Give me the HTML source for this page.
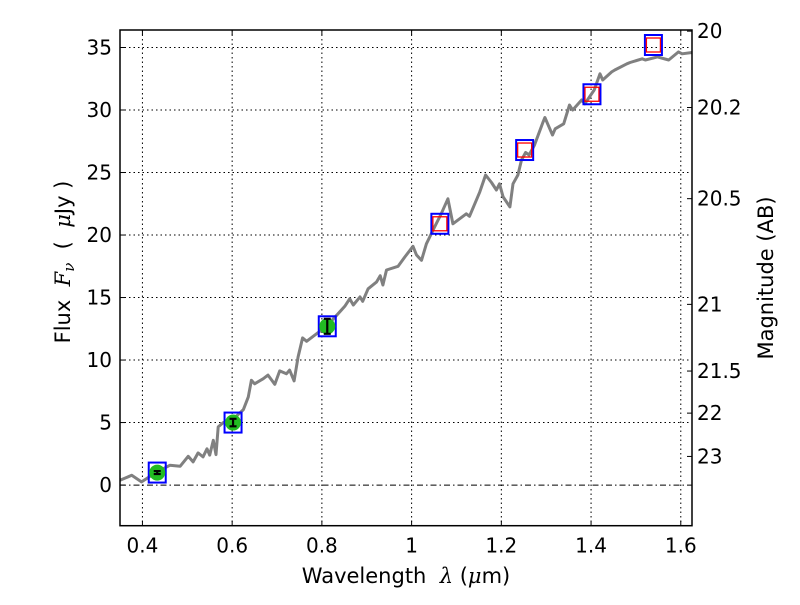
<!DOCTYPE html>
<html><head><meta charset="utf-8"><style>
html,body{margin:0;padding:0;background:#fff}
svg text{font-family:"DejaVu Sans","Liberation Sans",sans-serif;fill:#000}
</style></head><body>
<svg id="chart" width="800" height="600" viewBox="0 0 800 600" xmlns="http://www.w3.org/2000/svg">
<rect width="800" height="600" fill="#fff"/>
<g id="grid"></g>
<g id="spec"></g>
<g id="marks"></g>
<g id="axes"></g>
<text x="406" y="583" text-anchor="middle" font-size="21">Wavelength&#160;&#160;<tspan font-style="italic" font-family="DejaVu Serif,serif">λ</tspan> (<tspan font-style="italic" font-family="DejaVu Serif,serif">μ</tspan>m)</text>
<text transform="translate(70,262) rotate(-90)" text-anchor="middle" font-size="21">Flux&#160;&#160;<tspan font-style="italic" font-family="DejaVu Serif,serif">F<tspan font-size="15" dy="4">ν</tspan></tspan><tspan dy="-4">&#160;&#160;(&#160;&#160;</tspan><tspan font-style="italic" font-family="DejaVu Serif,serif">μ</tspan>Jy )</text>
<text transform="translate(773,278) rotate(-90)" text-anchor="middle" font-size="21">Magnitude (AB)</text>
</svg>
<script>
const xTicks=[0.4,0.6,0.8,1.0,1.2,1.4,1.6];
const xTickLabels=["0.4","0.6","0.8","1","1.2","1.4","1.6"];
const yTicks=[0,5,10,15,20,25,30,35];
const magTicks=[20,20.2,20.5,21,21.5,22,23];
const magTickLabels=["20","20.2","20.5","21","21.5","22","23"];
const specWave=[0.35,0.376,0.398,0.43,0.461,0.484,0.502,0.513,0.524,0.535,0.544,0.55,0.558,0.564,0.569,0.58,0.603,0.625,0.636,0.643,0.65,0.669,0.68,0.695,0.706,0.721,0.728,0.738,0.747,0.757,0.766,0.788,0.81,0.836,0.851,0.862,0.87,0.885,0.891,0.903,0.922,0.93,0.936,0.944,0.97,0.985,1.003,1.011,1.022,1.033,1.048,1.066,1.081,1.092,1.107,1.122,1.129,1.152,1.165,1.178,1.189,1.196,1.204,1.219,1.226,1.237,1.245,1.254,1.262,1.274,1.293,1.297,1.314,1.32,1.339,1.352,1.359,1.379,1.386,1.407,1.42,1.426,1.446,1.453,1.48,1.487,1.514,1.521,1.548,1.573,1.595,1.603,1.625];
const specFlux=[0.38,0.78,0.25,1.0,1.58,1.5,2.3,1.85,2.57,2.25,2.9,2.4,3.58,2.44,4.65,5.0,5.3,6.04,7.05,8.38,8.1,8.5,8.8,8.06,9.13,8.9,9.2,8.33,10.25,11.77,11.5,12.1,12.7,13.7,14.3,14.9,14.4,15.05,14.7,15.7,16.25,16.75,16.0,17.2,17.5,18.25,19.1,18.4,17.98,19.3,20.4,21.7,22.9,20.9,21.3,21.7,21.5,23.45,24.8,24.2,23.6,24.1,23.05,22.25,24.1,24.8,26.0,26.6,26.4,27.2,29.05,29.4,28.0,28.5,28.9,30.4,30.0,30.8,30.5,31.6,32.9,32.4,33.05,33.2,33.7,33.8,34.1,34.0,34.25,34.0,34.65,34.5,34.6];
const optWave=[0.433,0.602,0.812];
const optFlux=[1.0,5.0,12.7];
const optErr=[0.12,0.3,0.6];
const nirWave=[1.063,1.252,1.402,1.539];
const nirFlux=[20.9,26.8,31.26,35.2];

const X0=120,X1=692,Y0=30,Y1=525.7;
const xmin=0.35,xmax=1.625,ymin=-3.25,ymax=36.4;
const sx=v=>X0+(v-xmin)/(xmax-xmin)*(X1-X0);
const sy=v=>Y1-(v-ymin)/(ymax-ymin)*(Y1-Y0);
const magToFlux=m=>Math.pow(10,(23.9-m)/2.5);
const NS='http://www.w3.org/2000/svg';
function mk(tag,attrs,parent){const e=document.createElementNS(NS,tag);for(const k in attrs)e.setAttribute(k,attrs[k]);parent.appendChild(e);return e;}
const grid=document.getElementById('grid'),axes=document.getElementById('axes'),spec=document.getElementById('spec'),marks=document.getElementById('marks');

xTicks.forEach((t,i)=>{
  const x=sx(t);
  const g=mk('line',{x1:x,x2:x,y1:Y0,y2:Y1,stroke:'#000','stroke-width':1,'stroke-dasharray':'1.5,3'},grid);
  
  
  const tk=mk('line',{x1:x,x2:x,y1:Y1,y2:Y1-5,stroke:'#000','stroke-width':1},axes);
  
  
  const tk2=mk('line',{x1:x,x2:x,y1:Y0,y2:Y0+5,stroke:'#000','stroke-width':1},axes);
  
  
  const tx=mk('text',{x:x,y:Y1+27,'text-anchor':'middle','font-size':20},axes);
  tx.textContent=xTickLabels[i];
  
  
});
yTicks.forEach(t=>{
  const y=sy(t);
  const g=mk('line',{x1:X0,x2:X1,y1:y,y2:y,stroke:'#000','stroke-width':1,'stroke-dasharray':t===0?'6,3,1.5,3':'1.5,3'},grid);
  
  
  const tk=mk('line',{x1:X0,x2:X0+5,y1:y,y2:y,stroke:'#000','stroke-width':1},axes);
  
  
  const tx=mk('text',{x:X0-8,y:y+7,'text-anchor':'end','font-size':20},axes);
  tx.textContent=String(t);
  
  
});
magTicks.forEach((m,i)=>{
  const y=sy(magToFlux(m));
  const tk=mk('line',{x1:X1,x2:X1-5,y1:y,y2:y,stroke:'#000','stroke-width':1},axes);
  
  
  const tx=mk('text',{x:X1+5,y:y+7,'font-size':20},axes);
  tx.textContent=magTickLabels[i];
  
  
});
const frame=mk('rect',{x:X0,y:Y0,width:X1-X0,height:Y1-Y0,fill:'none',stroke:'#000','stroke-width':1.5},axes);



const pl=mk('polyline',{points:specWave.map((w,i)=>sx(w).toFixed(1)+','+sy(specFlux[i]).toFixed(1)).join(' '),fill:'none',stroke:'#808080','stroke-width':3,'stroke-linejoin':'round'},spec);



optWave.forEach((w,i)=>{
  const x=sx(w),y=sy(optFlux[i]);
  const b=mk('rect',{x:x-8.5,y:y-10,width:17,height:20,fill:'none',stroke:'#0000ff','stroke-width':2},marks);
  
  
  const c=mk('circle',{cx:x,cy:y,r:8,fill:'#22bb22'},marks);
  
  
  const y1=sy(optFlux[i]+optErr[i]),y2=sy(optFlux[i]-optErr[i]);
  const e=mk('path',{d:`M${x},${y1}V${y2}M${x-3.5},${y1}H${x+3.5}M${x-3.5},${y2}H${x+3.5}`,stroke:'#000','stroke-width':2.2,fill:'none'},marks);
  
  
});
nirWave.forEach((w,i)=>{
  const x=sx(w),y=sy(nirFlux[i]);
  const b=mk('rect',{x:x-8.5,y:y-10,width:17,height:20,fill:'none',stroke:'#0000ff','stroke-width':2},marks);
  
  
  const r=mk('rect',{x:x-7,y:y-7,width:14,height:14,fill:'none',stroke:'#ff0000','stroke-width':1.3},marks);
  
  
});
</script>
</body></html>
